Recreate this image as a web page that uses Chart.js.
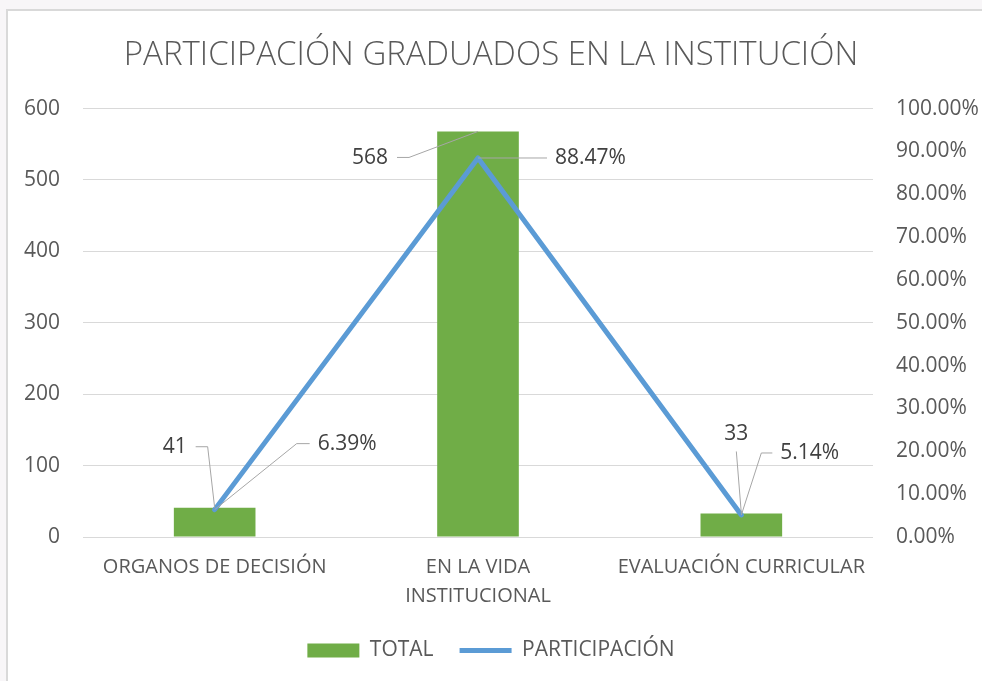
<!DOCTYPE html>
<html>
<head>
<meta charset="utf-8">
<script src="https://cdn.jsdelivr.net/npm/chart.js@4"></script>
<style>
  html, body { margin: 0; padding: 0; background: #f8f6f8; }
  .frame {
    position: absolute; left: 6px; top: 9px; width: 976px; height: 672px;
    background: #fff; border-left: 2px solid #d9d9d9; border-top: 2px solid #d9d9d9;
  }
  .main-chart { position: absolute; left: 0; top: 0; width: 982px; height: 681px; }
</style>
</head>
<body>
<div class="frame"></div>
<div class="main-chart"><canvas id="c" width="982" height="681"></canvas></div>
<script>
const categories = ['ORGANOS DE DECISIÓN', ['EN LA VIDA', 'INSTITUCIONAL'], 'EVALUACIÓN CURRICULAR'];
const totalValues = [41, 568, 33];
const participacionValues = [6.39, 88.47, 5.14];
const leftTicks = [0, 100, 200, 300, 400, 500, 600];
const rightTicks = [0, 10, 20, 30, 40, 50, 60, 70, 80, 90, 100];

const textColor = '#595959';
const fontFamily = "'Open Sans', 'Noto Sans', sans-serif";

// leader line offsets from each mark: [elbowDx, elbowDy, endDx, textDx, textDy, align]
const totalLeaders = [
    [-7, -61, -19, -9, 0, 'right'],
    [-69, 26, -81, -9, 1, 'right'],
    [-5, -62, -5, 0, -17, 'center']
];
const partLeaders = [
    [82, -66, 95, 8, 0, 'left'],
    [0, 0, 69, 8, 0, 'left'],
    [20, -62, 31, 8, 0, 'left']
];

const leaderLabels = {
    id: 'leaderLabels',
    afterDatasetsDraw(chart) {
        const ctx = chart.ctx;
        ctx.save();
        ctx.font = '21px ' + fontFamily;
        ctx.textBaseline = 'middle';
        chart.data.datasets.forEach((ds, di) => {
            const meta = chart.getDatasetMeta(di);
            const leaders = di === 0 ? totalLeaders : partLeaders;
            meta.data.forEach((el, i) => {
                const l = leaders[i];
                const px = el.x, py = el.y;
                const ex = px + l[0], ey = py + l[1];
                const fx = px + l[2];
                ctx.strokeStyle = '#a6a6a6';
                ctx.lineWidth = 1;
                ctx.beginPath();
                ctx.moveTo(px, py);
                ctx.lineTo(ex, ey);
                ctx.lineTo(fx, ey);
                ctx.stroke();
                const txt = di === 0 ? String(ds.data[i]) : ds.data[i].toFixed(2) + '%';
                ctx.fillStyle = '#404040';
                ctx.textAlign = l[5];
                ctx.fillText(txt, fx + l[3], ey + l[4]);
            });
        });
        ctx.restore();
    }
};

new Chart(document.getElementById('c'), {
    data: {
        labels: categories,
        datasets: [{
            type: 'bar',
            label: 'TOTAL',
            data: totalValues,
            backgroundColor: '#70ad47',
            yAxisID: 'y',
            barPercentage: 0.31,
            categoryPercentage: 1,
            pointStyle: 'rect',
            order: 1
        }, {
            type: 'line',
            label: 'PARTICIPACIÓN',
            data: participacionValues,
            borderColor: '#5b9bd5',
            backgroundColor: '#5b9bd5',
            borderWidth: 5,
            borderCapStyle: 'round',
            borderJoinStyle: 'round',
            pointRadius: 0,
            pointStyle: 'line',
            yAxisID: 'y1',
            order: 0
        }]
    },
    options: {
        responsive: false,
        animation: false,
        layout: { padding: { left: 0, right: 0, top: 0, bottom: 10 } },
        plugins: {
            title: {
                display: true,
                text: 'PARTICIPACIÓN GRADUADOS EN LA INSTITUCIÓN',
                color: textColor,
                font: { family: fontFamily, size: 33, weight: '300', lineHeight: 1.2 },
                padding: { top: 36, bottom: 33 }
            },
            legend: {
                position: 'bottom',
                labels: {
                    color: textColor,
                    font: { family: fontFamily, size: 21 },
                    usePointStyle: true,
                    pointStyleWidth: 52,
                    boxHeight: 14,
                    padding: 26,
                    sort: (a, b) => a.datasetIndex - b.datasetIndex
                }
            },
            tooltip: { enabled: false }
        },
        scales: {
            x: {
                grid: { display: false },
                border: { display: false },
                ticks: {
                    color: textColor,
                    font: { family: fontFamily, size: 20, lineHeight: 1.45 },
                    padding: 8,
                    maxRotation: 0,
                    autoSkip: false
                },
                afterFit(scale) { scale.height = 77; }
            },
            y: {
                position: 'left',
                min: 0,
                max: 600,
                afterBuildTicks(scale) { scale.ticks = leftTicks.map(v => ({ value: v })); },
                grid: { color: '#d9d9d9', lineWidth: 1, drawTicks: false },
                border: { display: false },
                ticks: {
                    color: textColor,
                    font: { family: fontFamily, size: 21 },
                    padding: 23
                },
                afterFit(scale) { scale.width = 83; }
            },
            y1: {
                position: 'right',
                min: 0,
                max: 100,
                afterBuildTicks(scale) { scale.ticks = rightTicks.map(v => ({ value: v })); },
                grid: { display: false, drawTicks: false },
                border: { display: false },
                ticks: {
                    color: textColor,
                    font: { family: fontFamily, size: 21 },
                    padding: 23,
                    callback: v => v.toFixed(2) + '%'
                },
                afterFit(scale) { scale.width = 109; }
            }
        }
    },
    plugins: [leaderLabels]
});
</script>
</body>
</html>
